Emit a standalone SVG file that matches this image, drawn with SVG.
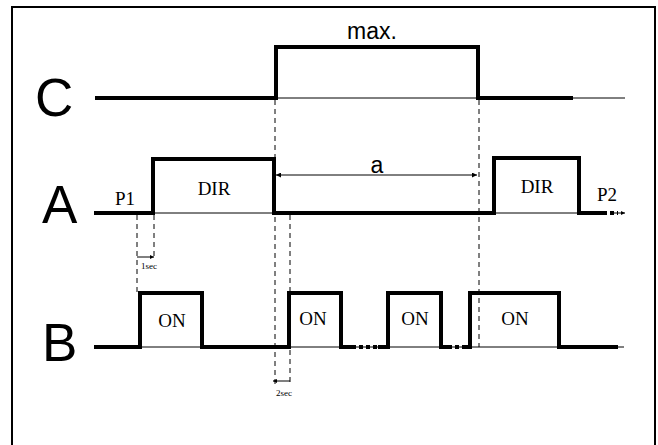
<svg xmlns="http://www.w3.org/2000/svg" width="658" height="445" viewBox="0 0 658 445">
<style>
.thick{fill:none;stroke:#000;stroke-width:4;stroke-linejoin:miter;stroke-linecap:butt}
.thin{fill:none;stroke:#000;stroke-width:1}
.dash{fill:none;stroke:#000;stroke-width:1;stroke-dasharray:5 4}
.dot{fill:none;stroke:#000;stroke-width:4;stroke-dasharray:4 3}
.big{font-family:"Liberation Sans",Arial,sans-serif;font-size:53px;fill:#000}
.sans{font-family:"Liberation Sans",Arial,sans-serif;font-size:23px;fill:#000;text-anchor:middle}
.ser{font-family:"Liberation Serif","Times New Roman",serif;font-size:19px;fill:#000;text-anchor:middle}
.tiny{font-family:"Liberation Serif","Times New Roman",serif;font-size:9px;fill:#000}
</style>
<defs>
<marker id="ah" viewBox="0 0 10 10" refX="10" refY="5" markerWidth="8" markerHeight="5" orient="auto-start-reverse" markerUnits="userSpaceOnUse">
<path d="M0,0 L10,5 L0,10 z" fill="#000"/>
</marker>
<marker id="ahs" viewBox="0 0 10 10" refX="10" refY="5" markerWidth="6" markerHeight="4" orient="auto-start-reverse" markerUnits="userSpaceOnUse">
<path d="M0,0 L10,5 L0,10 z" fill="#000"/>
</marker>
</defs>
<rect x="0" y="0" width="658" height="445" fill="#fff"/>
<rect x="12" y="7" width="643" height="460" fill="none" stroke="#000" stroke-width="2"/>

<g id="signal-C">
<text class="big" x="35" y="116">C</text>
<line class="thin" x1="276" y1="98" x2="625" y2="98"/>
<polyline class="thick" points="95,98 276,98 276,47 478,47 478,98 573,98"/>
<text class="sans" x="372" y="39">max.</text>
</g>

<g id="signal-A">
<text class="big" x="42" y="223">A</text>
<line class="thin" x1="153" y1="213" x2="274" y2="213"/>
<line class="thin" x1="494" y1="213" x2="579" y2="213"/>
<polyline class="thick" points="94,213 153,213 153,159 274,159 274,213 494,213 494,158 579,158 579,213 603,213"/>
<line class="dot" x1="603" y1="213" x2="618" y2="213" stroke-width="3"/>
<line class="thin" x1="612" y1="213" x2="625" y2="213" marker-end="url(#ahs)"/>
<text class="ser" x="125" y="205">P1</text>
<text class="ser" x="214" y="195">DIR</text>
<text class="ser" x="537" y="193">DIR</text>
<text class="ser" x="607" y="201">P2</text>
</g>

<g id="signal-B">
<text class="big" x="42" y="361">B</text>
<line class="thin" x1="140" y1="347" x2="624" y2="347"/>
<polyline class="thick" points="94,347 140,347 140,293 202,293 202,347 289,347 289,293 341,293 341,347 352,347"/>
<line class="dot" x1="352" y1="347" x2="380" y2="347"/>
<polyline class="thick" points="378,347 388,347 388,293 441,293 441,347 448,347"/>
<line class="dot" x1="448" y1="347" x2="463" y2="347"/>
<polyline class="thick" points="462,347 470,347 470,293 559,293 559,347 618,347"/>
<text class="ser" x="172" y="327">ON</text>
<text class="ser" x="313" y="325">ON</text>
<text class="ser" x="415" y="325">ON</text>
<text class="ser" x="515" y="325">ON</text>
</g>

<g id="connectors">
<line class="dash" x1="137" y1="215" x2="137" y2="293"/>
<line class="dash" x1="154" y1="215" x2="154" y2="258"/>
<line class="dash" x1="275" y1="100" x2="275" y2="386"/>
<line class="dash" x1="290" y1="215" x2="290" y2="386"/>
<line class="dash" x1="479" y1="100" x2="479" y2="347"/>
<line class="thin" x1="276" y1="175" x2="477" y2="175" marker-start="url(#ah)" marker-end="url(#ah)"/>
<text class="sans" x="377" y="173">a</text>
<line class="thin" x1="137" y1="257" x2="154" y2="257" marker-end="url(#ahs)"/>
<text class="tiny" x="141" y="269">1sec</text>
<line class="thin" x1="273" y1="381" x2="290" y2="381" marker-start="url(#ahs)"/>
<text class="tiny" x="276" y="396">2sec</text>
</g>
</svg>
